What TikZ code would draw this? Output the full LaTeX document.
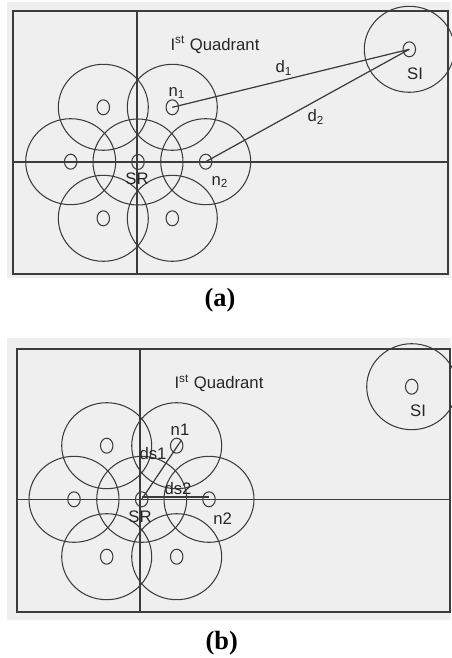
\documentclass[tikz,border=0pt]{standalone}
\usepackage{fontspec}
\setmainfont{Liberation Serif}
\setsansfont{Liberation Sans}
\usepackage{tikz}
\usetikzlibrary{shapes.geometric}

\definecolor{bggray}{RGB}{239,239,239}
\definecolor{linegray}{RGB}{60,60,60}

\tikzset{
  cell/.style={ellipse, draw=linegray, line width=0.6pt, minimum width=1.8cm, minimum height=1.72cm, inner sep=0pt},
  hole/.style={ellipse, draw=linegray, line width=0.6pt, minimum width=0.25cm, minimum height=0.3cm, inner sep=0pt},
  lbl/.style={font=\sffamily\fontsize{9.5}{11}\selectfont, text=black!85, inner sep=0pt},
  caption/.style={font=\bfseries\fontsize{15}{18}\selectfont, inner sep=0pt},
  link/.style={draw=linegray, line width=0.7pt},
}

\begin{document}
\begin{tikzpicture}[x=0.02cm, y=-0.02cm]
  \useasboundingbox (0,0) rectangle (451,658);

  % ---- panel (a)
  \fill[bggray] (7,2) rectangle (451,278);
  \draw[linegray, line width=0.7pt] (13,11) rectangle (448,274);
  \draw[linegray, line width=0.7pt] (137,11) -- (137,274);
  \draw[linegray, line width=0.7pt] (13,162) -- (448,162);
  \foreach \name/\x/\y in {sra/138/162, tla/103.3/107.3, n1a/172.3/107.3, lfa/70.7/161.7,
                          n2a/205.7/161.7, bla/103.3/218.3, bra/172.3/218.3, sia/409.3/49.3} {
    \node[cell] (\name-cell) at (\x,\y) {};
    \node[hole] (\name) at (\x,\y) {};
  }
  \node[lbl] (quada) at (215,45) {I\textsuperscript{st} Quadrant};
  \node[lbl] (labn1a) at (177,93) {n\textsubscript{1}};
  \node[lbl] (labn2a) at (220,182) {n\textsubscript{2}};
  \node[lbl] (labsra) at (137,179) {SR};
  \node[lbl] (labsia) at (415,74) {SI};
  \draw[link] (n1a.center) -- (sia.center);
  \draw[link] (n2a.center) -- (sia.center);
  \node[lbl] (d1) at (284,68) {d\textsubscript{1}};
  \node[lbl] (d2) at (316,117) {d\textsubscript{2}};
  \node[caption] (capa) at (220,300) {(a)};

  % ---- panel (b)
  \fill[bggray] (7,338) rectangle (451,620);
  \draw[linegray, line width=0.7pt] (17,349) rectangle (450,612);
  \draw[linegray, line width=0.7pt] (140,349) -- (140,612);
  \draw[linegray, line width=0.7pt] (17,499.3) -- (450,499.3);
  \foreach \name/\x/\y in {srb/141.7/499.3, tlb/106.7/445.7, n1b/176.7/445.7, lfb/74/499.3,
                          n2b/209/499.3, blb/106.7/556.7, brb/176.7/556.7, sib/411.7/386.7} {
    \node[cell] (\name-cell) at (\x,\y) {};
    \node[hole] (\name) at (\x,\y) {};
  }
  \node[lbl] (quadb) at (219,383.3) {I\textsuperscript{st} Quadrant};
  \node[lbl] (labn1b) at (180,430) {n1};
  \node[lbl] (labn2b) at (222.7,519) {n2};
  \node[lbl] (labsrb) at (140,516.7) {SR};
  \node[lbl] (labsib) at (418,410.7) {SI};
  \draw[link] (srb.center) -- (n1b.north east);
  \draw[link] ([yshift=1.3pt]srb.center) -- ([yshift=1.3pt]n2b.center);
  \node[lbl] (ds1) at (153,454) {ds1};
  \node[lbl] (ds2) at (178,489) {ds2};
  \node[caption] (capb) at (221.7,642.7) {(b)};
\end{tikzpicture}
\end{document}
